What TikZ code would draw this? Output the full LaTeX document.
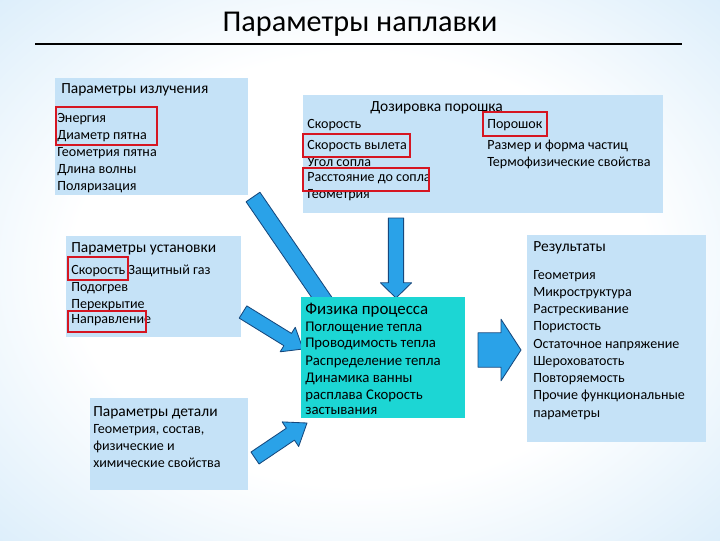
\documentclass[tikz,border=0pt]{standalone}
\usepackage{fontspec}
\setmainfont{Carlito}
\usetikzlibrary{calc,fit}

\definecolor{panelblue}{RGB}{197,226,247}
\definecolor{physcyan}{RGB}{28,214,212}
\definecolor{arrowblue}{RGB}{42,162,232}
\definecolor{arrowedge}{RGB}{22,72,125}
\definecolor{markred}{RGB}{214,22,34}
\definecolor{bgblue}{RGB}{202,229,248}
\definecolor{bgedge}{RGB}{152,205,240}

\pgfdeclareradialshading{slidebg}{\pgfpoint{0bp}{0bp}}{color(0bp)=(white); color(20bp)=(white); color(44bp)=(bgblue); color(71bp)=(bgedge)}

% block arrow: tail, tip, half shaft, half head, head length
\newcommand{\fatarrow}[5]{%
  \coordinate (headbase) at ($(#2)!#5!(#1)$);
  \draw[blockarrow] ($(#1)!#3!90:(#2)$) -- ($(headbase)!#3!90:(#2)$)
    -- ($(headbase)!#4!90:(#2)$) -- (#2) -- ($(headbase)!#4!-90:(#2)$)
    -- ($(headbase)!#3!-90:(#2)$) -- ($(#1)!#3!-90:(#2)$) -- cycle;
}

\begin{document}
\begin{tikzpicture}[x=0.025cm,y=-0.025cm,
  panel/.style={fill=panelblue,inner sep=0pt},
  paneltitle/.style={anchor=base west,inner sep=0pt,font=\fontsize{11}{13}\selectfont},
  entry/.style={anchor=base west,inner sep=0pt,font=\fontsize{10}{12}\selectfont},
  redframe/.style={draw=markred,line width=1.8pt},
  blockarrow/.style={fill=arrowblue,draw=arrowedge,line width=0.6pt,line join=round}]

\useasboundingbox (0,0) rectangle (720,540);
\shade[shading=slidebg] (0,0) rectangle (720,540);

% title
\node[anchor=base,inner sep=0pt,font=\fontsize{21.5}{24}\selectfont] (title) at (360,31) {Параметры наплавки};
\coordinate (ruleL) at (35,44);
\coordinate (ruleR) at (682,44);
\draw[line width=2pt] (ruleL) -- (ruleR);

% panels
\node[panel,fit={(55,78)(248,195)}] (rad) {};
\node[panel,fit={(303,95)(663,213)}] (pow) {};
\node[panel,fit={(66,236)(241,337)}] (inst) {};
\node[panel,fit={(90,398)(248,490)}] (det) {};
\node[panel,fit={(527,235)(706,442)}] (res) {};

% arrows
\coordinate (radout) at (253,197);
\coordinate (radin) at (340,324);
\coordinate (powout) at (396,218);
\coordinate (powin) at (396,298);
\coordinate (instout) at (243,312);
\coordinate (instin) at (303,349);
\coordinate (detout) at (255,458);
\coordinate (detin) at (307,423);
\coordinate (physout) at (478,350);
\coordinate (resin) at (521,350);
\fatarrow{radout}{radin}{0.21cm}{0.4cm}{0.45cm}
\fatarrow{powout}{powin}{0.19cm}{0.39cm}{0.38cm}
\fatarrow{instout}{instin}{0.18cm}{0.36cm}{0.45cm}
\fatarrow{detout}{detin}{0.18cm}{0.37cm}{0.5cm}
\fatarrow{physout}{resin}{0.43cm}{0.77cm}{0.5cm}

\node[panel,fill=physcyan,fit={(301,297)(465,418)}] (phys) {};

% texts
\node[paneltitle] (radtitle) at (61,93) {Параметры излучения};
\foreach \t [count=\i] in {Энергия,Диаметр пятна,Геометрия пятна,Длина волны,Поляризация}
  \node[entry] (rad-\i) at (57,104.8+17.2*\i) {\t};

\node[paneltitle] (powtitle) at (370,111) {Дозировка порошка};
\foreach \t/\y [count=\i] in {Скорость/128,Скорость вылета/149,Угол сопла/166,Расстояние до сопла/181,Геометрия/198}
  \node[entry] (powl-\i) at (307,\y) {\t};
\foreach \t/\y [count=\i] in {Порошок/128,Размер и форма частиц/149,Термофизические свойства/166}
  \node[entry] (powr-\i) at (487,\y) {\t};

\node[paneltitle] (insttitle) at (71,252) {Параметры установки};
\foreach \t/\y [count=\i] in {Скорость Защитный газ/274,Подогрев/291,Перекрытие/308,Направление/323}
  \node[entry] (inst-\i) at (71,\y) {\t};

\node[paneltitle] (dettitle) at (93,416) {Параметры детали};
\foreach \t [count=\i] in {{Геометрия, состав,},физические и,химические свойства}
  \node[entry] (det-\i) at (93,416+17*\i) {\t};

\node[paneltitle,font=\fontsize{12}{14}\selectfont] (phystitle) at (305,314) {Физика процесса};
\foreach \t/\y [count=\i] in {Поглощение тепла/331,Проводимость тепла/347,Распределение тепла/365,Динамика ванны/382,расплава Скорость/399,застывания/414}
  \node[entry,font=\fontsize{10.5}{12}\selectfont] (phys-\i) at (305,\y) {\t};

\node[paneltitle] (restitle) at (533,251) {Результаты};
\foreach \t [count=\i] in {Геометрия,Микроструктура,Растрескивание,Пористость,Остаточное напряжение,Шероховатость,Повторяемость,Прочие функциональные,параметры}
  \node[entry] (res-\i) at (533,261.75+17.25*\i) {\t};

% highlights
\draw[redframe] (56,107) rectangle (157,145);
\draw[redframe] (483,112) rectangle (547,136);
\draw[redframe] (303,134) rectangle (410,157);
\draw[redframe] (303,168) rectangle (429,191);
\draw[redframe] (68,257) rectangle (128,280);
\draw[redframe] (68,311) rectangle (146,332);
\end{tikzpicture}
\end{document}
